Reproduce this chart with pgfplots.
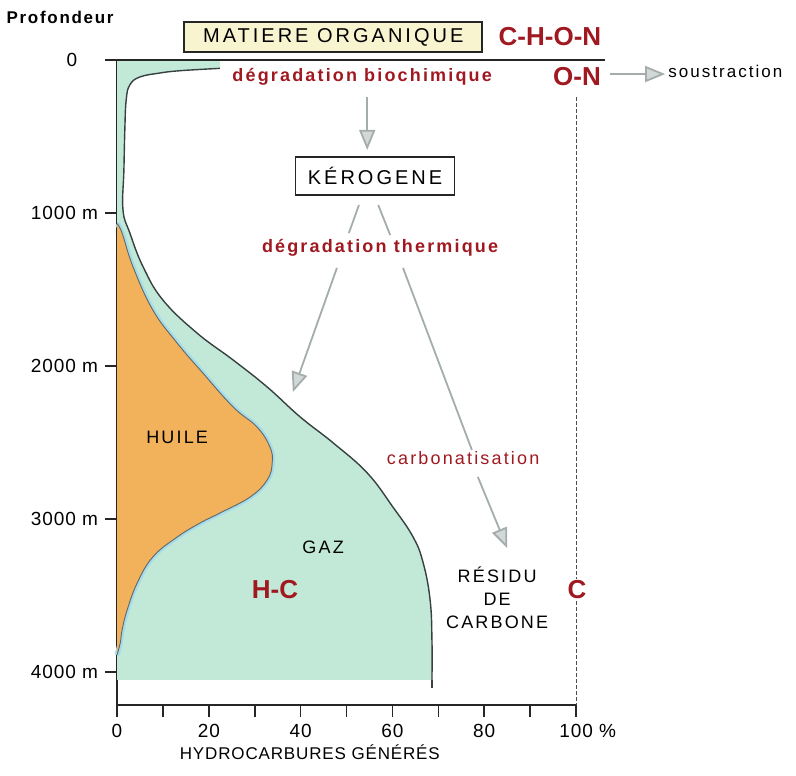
\documentclass[border=0pt]{standalone}
\usepackage{fontspec}
\setmainfont{Liberation Sans}[LetterSpace=10]
\usepackage{pgfplots}
\pgfplotsset{compat=1.18}
\usepgfplotslibrary{fillbetween}
\usetikzlibrary{arrows.meta}
\definecolor{mint}{RGB}{194,232,216}
\definecolor{oil}{RGB}{242,178,92}
\definecolor{dred}{RGB}{160,25,32}
\definecolor{boxy}{RGB}{248,244,208}
\definecolor{garr}{RGB}{165,172,172}
\definecolor{garrf}{RGB}{210,216,216}
\definecolor{curve}{RGB}{55,65,65}
\definecolor{oilb}{RGB}{165,220,235}
\tikzset{
  garrow/.style={draw=garr, line width=0.9pt, -{Triangle[length=10pt,width=8pt,fill=garrf]}},
  gline/.style={draw=garr, line width=0.9pt},
}
\pgfplotstableread{
x d
22.4 55
18 62
13 72
9.4 85
5.0 111
2.8 163
2.0 261
1.7 458
1.5 719
1.3 980
2.8 1131
5.7 1353
10.0 1569
17.4 1784
25.3 1961
32.7 2137
39.9 2333
47.1 2503
54.5 2699
60.1 2922
64.5 3118
66.7 3288
68.2 3529
68.6 3791
68.6 4052
}\outer
\pgfplotstableread{
x d
0 1070
1.1 1131
3.5 1353
7.8 1634
13.1 1850
18.7 2046
25.3 2268
30.5 2399
33.3 2529
33.8 2634
32.7 2745
29.0 2856
22.4 2961
18.1 3026
13.1 3118
7.8 3248
4.4 3418
2.2 3595
1.1 3726
0.7 3810
0 3889
}\huile
\begin{document}
\begin{tikzpicture}
\begin{axis}[
  scale only axis, width=229.5pt, height=322.5pt,
  xmin=0, xmax=100, ymin=0, ymax=4216, y dir=reverse,
  axis x line=bottom, axis y line=left,
  axis line style={-, line width=0.8pt, black!85},
  xtick={0,20,...,100}, minor xtick={10,30,...,90},
  xticklabels={0,20,40,60,80,{100\rlap{\ \%}}},
  ytick={1000,2000,3000,4000},
  yticklabels={1000 m,2000 m,3000 m,4000 m},
  tick align=outside, major tick length=6pt, minor tick length=6pt,
  tick style={line width=0.8pt, black!85},
  tick label style={font=\fontsize{9.5}{10}\selectfont\addfontfeature{LetterSpace=5}},
  /pgf/number format/assume math mode=true,
  clip=false,
]
\addplot[draw=none, name path=outer, smooth, tension=0.7] table[x=x,y=d] {\outer};
\path[name path=axl] (axis cs:0,55) -- (axis cs:0,4052);
\addplot[mint] fill between[of=outer and axl];
\addplot[fill=mint, draw=none] coordinates {(0,0) (22.4,0) (22.4,62) (0,62)} -- cycle;
\addplot[draw=oilb, line width=2.6pt, smooth, tension=0.7] table[x=x,y=d] {\huile};
\addplot[fill=oil, draw=none, smooth, tension=0.7] table[x=x,y=d] {\huile};
\addplot[curve!80, line width=0.45pt, smooth, tension=0.7] table[x=x,y=d] {\huile};
\addplot[curve, line width=0.7pt, smooth, tension=0.7] table[x=x,y=d] {\outer};
\addplot[curve, line width=0.7pt] coordinates {(68.6,4052) (68.6,4105)};
% top line and dashed 100% line
\draw[black!85, line width=0.7pt] (axis cs:-2.6,0) -- (axis cs:106.3,0);
\draw[black!70, line width=0.5pt, dash pattern=on 2pt off 1pt] (axis cs:100,242) -- (axis cs:100,4216);
% arrows
\draw[garrow] (axis cs:54.5,242) -- (axis cs:54.5,588);
\draw[garrow] (axis cs:107.4,92) -- (axis cs:119.4,92);
\draw[gline] (axis cs:52.7,948) -- (axis cs:50.5,1131);
\draw[garrow] (axis cs:47.9,1359) -- (axis cs:38.3,2170);
\draw[gline] (axis cs:56.9,948) -- (axis cs:59.5,1144);
\draw[gline] (axis cs:62.3,1359) -- (axis cs:77.3,2549);
\draw[garrow] (axis cs:78.6,2725) -- (axis cs:85.0,3190);
% texts
\node[font=\fontsize{8.5}{10}\selectfont\bfseries] at (axis cs:-12.4,-275) {Profondeur};
\node[font=\fontsize{9.5}{10}\selectfont] at (axis cs:-9.8,0) {0};
\node[draw=black!85, line width=1pt, fill=boxy, minimum width=149pt, minimum height=15pt, inner sep=0pt,
      font=\fontsize{10}{11}\selectfont\addfontfeature{LetterSpace=15}] at (axis cs:47.1,-150) {MATIERE ORGANIQUE};
\node[text=dred, font=\fontsize{13}{14}\selectfont\bfseries\addfontfeature{LetterSpace=0}] at (axis cs:94.3,-150) {C-H-O-N};
\node[text=dred, font=\fontsize{9}{10}\selectfont\bfseries\addfontfeature{LetterSpace=12}] at (axis cs:53.4,111) {dégradation biochimique};
\node[text=dred, font=\fontsize{13}{14}\selectfont\bfseries\addfontfeature{LetterSpace=0}] at (axis cs:100.2,111) {O-N};
\node[font=\fontsize{8.5}{10}\selectfont\addfontfeature{LetterSpace=12}] at (axis cs:132.5,78) {soustraction};
\node[draw=black!85, line width=0.8pt, fill=white, minimum width=79.5pt, minimum height=19pt, inner sep=0pt,
      font=\fontsize{10}{11}\selectfont\addfontfeature{LetterSpace=15}] at (axis cs:56.2,758) {KÉROGENE};
\node[text=dred, font=\fontsize{9}{10}\selectfont\bfseries\addfontfeature{LetterSpace=12}] at (axis cs:57.3,1229) {dégradation thermique};
\node[text=dred, font=\fontsize{9}{10}\selectfont\addfontfeature{LetterSpace=12}] at (axis cs:75.4,2601) {carbonatisation};
\node[font=\fontsize{9}{10}\selectfont\addfontfeature{LetterSpace=12}] at (axis cs:13.1,2464) {HUILE};
\node[font=\fontsize{9}{10}\selectfont\addfontfeature{LetterSpace=12}] at (axis cs:44.9,3183) {GAZ};
\node[text=dred, font=\fontsize{13}{14}\selectfont\bfseries\addfontfeature{LetterSpace=0}] at (axis cs:34.4,3464) {H-C};
\node[align=center, font=\fontsize{9}{11.5}\selectfont\addfontfeature{LetterSpace=12}] at (axis cs:82.8,3516) {RÉSIDU\\DE\\CARBONE};
\node[fill=white, inner sep=1pt, text=dred, font=\fontsize{13}{14}\selectfont\bfseries\addfontfeature{LetterSpace=0}] at (axis cs:100.2,3464) {C};
\node[font=\fontsize{8.5}{10}\selectfont\addfontfeature{LetterSpace=5}] at (axis cs:42.0,4523) {HYDROCARBURES GÉNÉRÉS};
\coordinate (BL) at (axis cs:-25.49,4673);
\coordinate (TR) at (axis cs:147.9,-392);
\end{axis}
\pgfresetboundingbox
\useasboundingbox (BL) rectangle (TR);
\end{tikzpicture}
\end{document}
